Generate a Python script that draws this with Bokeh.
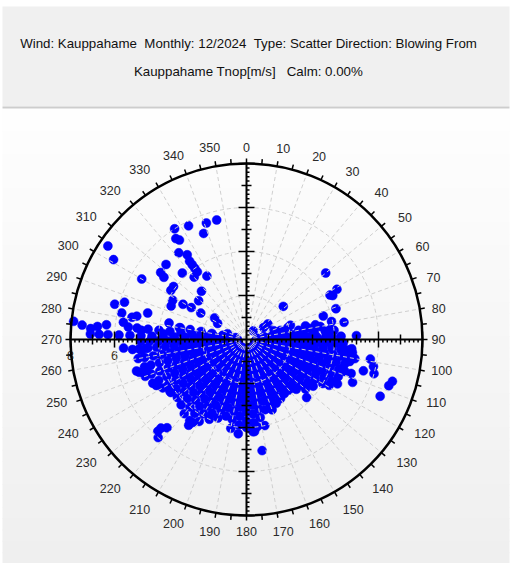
import numpy as np
from bokeh.plotting import figure
from bokeh.models import Range1d
from bokeh.core.properties import value
from bokeh.embed import file_html
from bokeh.resources import INLINE

# ---------------- data ----------------
title_line1 = "Wind: Kauppahame\u00a0\u00a0Monthly: 12/2024\u00a0\u00a0Type: Scatter Direction: Blowing From"
title_line2 = "Kauppahame Tnop[m/s]\u00a0\u00a0\u00a0Calm: 0.00%"

angle_ticks = [0, 10, 20, 30, 40, 50, 60, 70, 80, 90, 100, 110, 120, 130, 140, 150, 160, 170,
               180, 190, 200, 210, 220, 230, 240, 250, 260, 270, 280, 290, 300, 310, 320, 330, 340, 350]
radial_label_values = [0, 2, 4, 6, 8]
radial_grid = [2, 4, 6]
r_max = 8

# dense fan of observations (direction in degrees, list of speeds m/s)
fan_dir = [88, 92, 96, 100, 104, 108, 112, 116, 120, 125, 130, 135, 140, 145, 150, 155, 160, 165,
           170, 175, 180, 185, 190, 195, 200, 205, 210, 215, 220, 225, 230, 235, 240, 245, 250,
           255, 260, 265, 269, 272, 276, 280, 80, 84]
fan_speed = [
    [0.7, 1.3, 1.9, 2.4, 2.8, 3.2, 3.6, 3.9, 4.3],
    [0.5, 1.0, 1.6, 2.1, 2.5, 2.9, 3.3, 3.7, 4.1, 4.4],
    [0.8, 1.4, 1.9, 2.3, 2.7, 3.1, 3.5, 3.9, 4.3, 4.6],
    [0.4, 1.0, 1.5, 2.0, 2.4, 2.8, 3.2, 3.6, 4.0, 4.4, 4.7, 5.0],
    [0.6, 1.2, 1.7, 2.2, 2.6, 3.0, 3.4, 3.8, 4.2, 4.6],
    [0.9, 1.4, 1.9, 2.4, 2.8, 3.2, 3.6, 4.0, 4.4, 4.7, 5.0],
    [0.5, 1.1, 1.6, 2.1, 2.5, 2.9, 3.3, 3.7, 4.1, 4.5],
    [0.7, 1.3, 1.8, 2.3, 2.7, 3.1, 3.5, 3.9, 4.3, 4.6],
    [0.4, 1.0, 1.5, 2.0, 2.4, 2.8, 3.2, 3.6, 4.0],
    [0.8, 1.3, 1.8, 2.2, 2.6, 3.0, 3.4, 3.7],
    [0.5, 1.1, 1.6, 2.0, 2.4, 2.8, 3.2, 3.5],
    [0.6, 1.2, 1.7, 2.1, 2.5, 2.9, 3.2],
    [0.9, 1.4, 1.9, 2.3, 2.7, 3.0],
    [0.4, 1.0, 1.5, 2.0, 2.4, 2.7, 3.0],
    [0.7, 1.2, 1.7, 2.2, 2.6, 3.0],
    [0.5, 1.1, 1.6, 2.0, 2.4, 2.8, 3.2],
    [0.8, 1.3, 1.8, 2.3, 2.7, 3.1, 3.4],
    [0.6, 1.1, 1.6, 2.1, 2.5, 2.9, 3.3],
    [0.4, 1.0, 1.5, 2.0, 2.4, 2.8, 3.2, 3.6],
    [0.7, 1.2, 1.7, 2.2, 2.6, 3.0, 3.4, 3.8, 4.2],
    [0.5, 1.1, 1.6, 2.1, 2.5, 2.9, 3.3, 3.7, 4.0],
    [0.8, 1.3, 1.8, 2.3, 2.7, 3.1, 3.5, 3.9, 4.3],
    [0.6, 1.1, 1.6, 2.1, 2.5, 2.9, 3.3, 3.7, 4.1],
    [0.4, 1.0, 1.5, 2.0, 2.4, 2.8, 3.2, 3.6],
    [0.7, 1.2, 1.7, 2.2, 2.6, 3.0, 3.4, 3.8],
    [0.5, 1.1, 1.6, 2.1, 2.5, 2.9, 3.3, 3.7, 4.0],
    [0.8, 1.3, 1.8, 2.3, 2.7, 3.1, 3.5, 3.9, 4.3],
    [0.6, 1.1, 1.6, 2.1, 2.5, 2.9, 3.3, 3.7, 4.1, 4.5],
    [0.4, 1.0, 1.5, 2.0, 2.4, 2.8, 3.2, 3.6, 4.0, 4.4],
    [0.7, 1.2, 1.7, 2.2, 2.6, 3.0, 3.4, 3.8, 4.2],
    [0.5, 1.1, 1.6, 2.1, 2.5, 2.9, 3.3, 3.7, 4.1],
    [0.8, 1.3, 1.8, 2.3, 2.7, 3.1, 3.5, 3.9, 4.2],
    [0.6, 1.1, 1.6, 2.1, 2.5, 2.9, 3.3, 3.7, 4.1, 4.4],
    [0.4, 1.0, 1.5, 2.0, 2.4, 2.8, 3.2, 3.6, 4.0, 4.4, 4.7],
    [0.7, 1.2, 1.7, 2.2, 2.6, 3.0, 3.4, 3.8, 4.2, 4.6, 4.9],
    [0.5, 1.1, 1.6, 2.1, 2.5, 2.9, 3.3, 3.7, 4.1, 4.5, 4.8],
    [0.8, 1.3, 1.8, 2.3, 2.7, 3.1, 3.5, 3.9, 4.3, 4.7, 5.0],
    [0.6, 1.1, 1.6, 2.1, 2.5, 2.9, 3.3, 3.7, 4.1, 4.5, 4.9, 5.2],
    [0.4, 1.0, 1.5, 2.0, 2.4, 2.8, 3.2, 3.6, 4.0, 4.4, 4.8],
    [0.6, 1.2, 1.8, 2.3, 2.8, 3.3, 3.8, 4.3, 4.8, 5.3, 5.8, 6.3, 6.7, 7.1],
    [0.9, 1.5, 2.0, 2.5, 3.0, 3.5, 4.0, 4.5, 5.0],
    [0.5, 1.1, 1.6, 2.1, 2.6, 3.1],
    [0.8, 1.4, 1.9, 2.4, 2.9, 3.4],
    [0.5, 1.1, 1.6, 2.1, 2.6, 3.1, 3.6, 4.0],
]

# scattered observations
scatter_dir = [346, 341, 333, 327, 338, 325, 326, 304, 322, 325, 324, 324, 324, 324, 301, 313, 308,
               307, 316, 328, 320, 300, 306, 303, 317, 298, 294, 309, 299, 300, 300, 285, 287, 282,
               285, 282, 281, 304, 299, 282, 280, 278, 276, 275, 276, 275, 274, 276, 275, 287, 274,
               50, 61, 62, 63, 71, 48, 73, 80, 78, 83, 85, 77, 78, 54, 55, 38, 72, 74, 72, 75, 88,
               99, 105, 102, 105, 112, 106, 108, 113, 119, 134, 150, 155, 158, 98, 102, 107, 106,
               92, 91, 95, 97, 172, 176, 173, 168,
               224, 222, 222, 224, 214, 213, 266, 264, 265, 253, 252, 254, 254, 243, 236]
scatter_speed = [5.6, 5.6, 5.8, 6.0, 5.2, 5.6, 5.45, 7.6, 5.0, 4.7, 4.4, 4.2, 4.0, 3.8, 7.05, 5.0, 4.95,
                 4.7, 4.2, 3.4, 3.7, 5.5, 4.1, 4.1, 3.0, 3.8, 3.75, 2.8, 3.3, 2.9, 2.4, 6.2, 5.8, 5.8,
                 4.65, 5.1, 5.3, 1.75, 1.5, 3.6, 3.05, 5.65, 5.4, 4.8, 6.4, 6.8, 7.1, 7.9, 7.5, 0.9, 3.8,
                 4.7, 4.7, 4.3, 4.4, 4.3, 2.25, 3.65, 4.5, 3.95, 3.85, 3.8, 2.75, 3.2, 1.2, 0.95, 0.5,
                 2.1, 1.95, 1.3, 1.6, 5.0,
                 5.7, 5.5, 5.9, 6.0, 5.2, 6.9, 6.8, 6.6, 4.3, 3.8, 3.1, 2.6, 3.1, 4.8, 4.8, 4.5, 4.0,
                 4.1, 3.5, 4.8, 4.85, 5.1, 4.2, 4.0, 4.0,
                 5.6, 5.4, 6.0, 5.8, 4.7, 4.5, 5.6, 4.8, 4.6, 5.1, 4.9, 4.7, 5.2, 4.6, 4.2]

# ---------------- geometry ----------------
W, H = 510, 563
PX = 22.0                  # pixels per m/s
CX, CY = 246.0, 339.0      # centre of the rose (px)


def fy(page_y):
    return (CY - page_y) / PX


def fx(page_x):
    return (page_x - CX) / PX


x_lo, x_hi = -CX / PX, (W - CX) / PX
p = figure(width=W, height=H, output_backend="svg", toolbar_location=None,
           x_range=Range1d(x_lo, x_hi), y_range=Range1d(-(H - CY) / PX, CY / PX),
           min_border=0, outline_line_color=None)
p.xaxis.visible = False
p.yaxis.visible = False
p.xgrid.visible = False
p.ygrid.visible = False
p.background_fill_color = "#ffffff"
p.border_fill_color = "#ffffff"

# background gradient below the header
n_band = 40
edges = np.linspace(108, 563, n_band + 1)
tops, bots, cols = [], [], []
for i in range(n_band):
    t = i / (n_band - 1)
    g = int(round(254 - t * (254 - 239)))
    cols.append("#%02x%02x%02x" % (g, g, g))
    tops.append(fy(edges[i]))
    bots.append(fy(edges[i + 1]) - 0.05)
p.quad(left=fx(2), right=fx(509), top=tops, bottom=bots, fill_color=cols, line_color=None)

# header
p.quad(left=fx(2), right=fx(509), top=fy(6), bottom=fy(106), fill_color="#f0f0f0", line_color=None)
p.quad(left=fx(2), right=fx(509), top=fy(106), bottom=fy(108), fill_color="#cdcdcd", line_color=None)
p.text(x=[fx(248), fx(248)], y=[fy(43), fy(71)], text=[title_line1, title_line2],
       text_font=value("Liberation Sans"), text_font_size="13.3px", text_color="#111111",
       text_align="center", text_baseline="middle")

# radial value labels (under points)
p.text(x=[-v for v in radial_label_values], y=[-16 / PX] * len(radial_label_values),
       text=[str(v) for v in radial_label_values], text_font=value("Liberation Sans"),
       text_font_size="12.5px", text_color="#3a3020", text_align="center", text_baseline="middle")

# points
d_all, s_all = [], []
for d, sp in zip(fan_dir, fan_speed):
    for s in sp:
        d_all.append(d)
        s_all.append(s)
d_all += scatter_dir
s_all += scatter_speed
th = np.radians(np.array(d_all, dtype=float))
sp_all = np.array(s_all, dtype=float)
p.scatter(x=sp_all * np.sin(th), y=sp_all * np.cos(th), size=9, fill_color="#0000ff",
          line_color="#0000ff", line_width=0.5)

# grid
p.circle(x=[0] * len(radial_grid), y=[0] * len(radial_grid), radius=radial_grid,
         fill_color=None, line_color="#cfcfcf", line_dash="4 3", line_width=1)
sp_ang = np.radians(np.array(angle_ticks, dtype=float))
p.segment(x0=0, y0=0, x1=r_max * np.sin(sp_ang), y1=r_max * np.cos(sp_ang),
          line_color="#cfcfcf", line_dash="4 3", line_width=1)

# cross-hair axes
p.segment(x0=[-r_max, 0], y0=[0, -r_max], x1=[r_max, 0], y1=[0, r_max], line_color="black",
          line_width=2)
tx0, ty0, tx1, ty1 = [], [], [], []
for k in range(1, r_max + 1):
    half = (8 if k % 2 == 0 else 5) / PX
    for sgn in (-1, 1):
        tx0.append(sgn * k); tx1.append(sgn * k); ty0.append(-half); ty1.append(half)
        ty0.append(sgn * k); ty1.append(sgn * k); tx0.append(-half); tx1.append(half)
minor = np.arange(1, 40) * 0.2
for m in minor:
    if abs(m - round(m)) < 1e-6:
        continue
    for sgn in (-1, 1):
        tx0.append(sgn * m); tx1.append(sgn * m); ty0.append(0); ty1.append(-3 / PX)
        ty0.append(sgn * m); ty1.append(sgn * m); tx0.append(0); tx1.append(3 / PX)
p.segment(x0=tx0, y0=ty0, x1=tx1, y1=ty1, line_color="black", line_width=1.5)

# outer ring and its ticks
p.circle(x=[0], y=[0], radius=r_max, fill_color=None, line_color="black", line_width=2.5)
ring_ang = np.radians(np.arange(0, 360, 5, dtype=float))
r_out = r_max + 5 / PX
p.segment(x0=r_max * np.sin(ring_ang), y0=r_max * np.cos(ring_ang),
          x1=r_out * np.sin(ring_ang), y1=r_out * np.cos(ring_ang),
          line_color="black", line_width=1.5)

# direction labels (nudged slightly toward the horizontal like the original control)
lx, ly, lt = [], [], []
for a in angle_ticks:
    t0 = np.radians(a)
    txt = str(a)
    rr = 192 + 3 * (len(txt) - 2) * abs(np.sin(t0)) + 8 * abs(np.sin(2 * t0))
    t = np.radians(a + 2.5 * np.sin(2 * t0))
    lx.append(rr / PX * np.sin(t))
    ly.append(rr / PX * np.cos(t))
    lt.append(txt)
p.text(x=lx, y=ly, text=lt, text_font=value("Liberation Sans"), text_font_size="12.5px",
       text_color="#2a2a2a", text_align="center", text_baseline="middle")

open("out.html", "w").write(file_html(p, INLINE))
